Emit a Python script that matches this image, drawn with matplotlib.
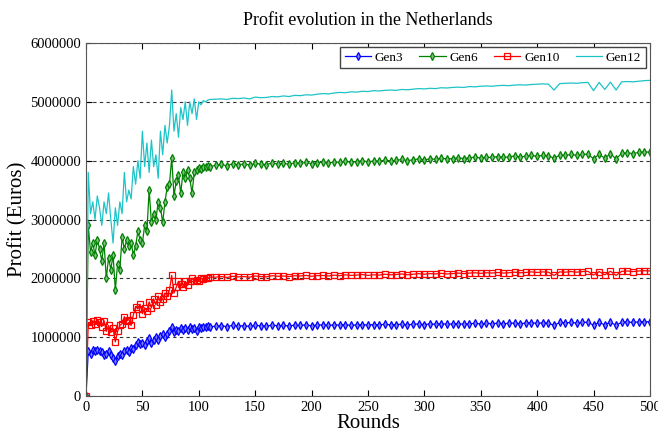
import matplotlib.pyplot as plt
import numpy as np

plt.rcParams['font.family'] = ['Liberation Serif', 'DejaVu Serif']

# rounds: every 2 rounds up to 110, then every 5 rounds
rounds = list(range(0, 112, 2)) + list(range(115, 505, 5))

# profit values in thousand euros
gen3 = [0, 760, 720, 780, 760, 790, 770, 740, 690, 720,
        760, 700, 640, 600, 680, 720, 700, 760, 780, 740,
        820, 800, 870, 920, 880, 900, 870, 940, 980, 900,
        950, 1000, 960, 1020, 1060, 1000, 1060, 1100, 1180, 1080,
        1120, 1100, 1150, 1120, 1160, 1130, 1170, 1140, 1150, 1100,
        1170, 1160, 1180, 1170, 1190, 1180,
        1185, 1195, 1180, 1200, 1190, 1195, 1185, 1200, 1195, 1190, 1205, 1195, 1200, 1190, 1205, 1200, 1210, 1195,
        1205, 1210, 1200, 1210, 1205, 1215, 1200, 1210, 1215, 1205, 1215, 1210, 1220, 1210, 1215, 1220, 1210, 1220, 1225, 1215,
        1225, 1220, 1230, 1220, 1225, 1230, 1220, 1230, 1235, 1225, 1235, 1230, 1240, 1230, 1235, 1240, 1230, 1240, 1245, 1235,
        1245, 1240, 1200, 1250, 1245, 1250, 1240, 1250, 1255, 1205, 1250, 1210, 1255, 1200, 1255, 1260, 1250, 1260, 1265, 1260]

gen6 = [0, 2900, 2450, 2600, 2400, 2650, 2500, 2300, 2600, 2000,
        2350, 2150, 2400, 1800, 2250, 2150, 2700, 2500, 2650, 2550,
        2600, 2400, 2550, 2800, 2650, 2600, 2900, 2800, 3500, 2950,
        3100, 3000, 3300, 3200, 2950, 3300, 3550, 3600, 4050, 3400,
        3650, 3750, 3450, 3800, 3700, 3850, 3700, 3450, 3800, 3850,
        3880, 3860, 3900, 3890, 3910, 3900,
        3920, 3940, 3910, 3950, 3930, 3945, 3925, 3955, 3940, 3935, 3960, 3945, 3955, 3940, 3965, 3955, 3970, 3950,
        3965, 3975, 3960, 3980, 3970, 3990, 3975, 3985, 4000, 3980, 3995, 3990, 4010, 3995, 4005, 4020, 4000, 4015, 4030, 4015,
        4030, 4025, 4040, 4030, 4035, 4050, 4035, 4050, 4060, 4045, 4060, 4055, 4070, 4055, 4065, 4080, 4065, 4075, 4090, 4075,
        4090, 4085, 4040, 4095, 4090, 4105, 4090, 4105, 4115, 4030, 4110, 4040, 4120, 4030, 4125, 4135, 4120, 4140, 4150, 4145]

gen10 = [0, 1250, 1200, 1280, 1230, 1300, 1250, 1180, 1280, 1100,
         1200, 1080, 1150, 920, 1100, 1200, 1230, 1350, 1280, 1300,
         1200, 1380, 1520, 1480, 1560, 1400, 1500, 1450, 1600, 1500,
         1650, 1550, 1700, 1600, 1650, 1750, 1700, 1800, 2050, 1750,
         1850, 1950, 1900, 1850, 1950, 1880, 1950, 2000, 1950, 1980,
         1960, 2000, 1990, 2010, 2000, 2020,
         2020, 2030, 2015, 2035, 2025, 2030, 2020, 2040, 2030, 2025, 2045, 2035, 2040, 2030, 2045, 2040, 2050, 2035,
         2045, 2050, 2040, 2055, 2045, 2060, 2050, 2055, 2065, 2050, 2060, 2055, 2070, 2060, 2065, 2075, 2060, 2070, 2080, 2070,
         2080, 2075, 2085, 2075, 2080, 2090, 2080, 2090, 2095, 2085, 2095, 2090, 2100, 2090, 2095, 2105, 2095, 2100, 2110, 2100,
         2110, 2105, 2050, 2110, 2105, 2115, 2105, 2115, 2120, 2055, 2115, 2060, 2120, 2050, 2120, 2125, 2115, 2125, 2130, 2125]

gen12 = [0, 3800, 3100, 3300, 3000, 3400, 3200, 2900, 3300, 3100,
         3450, 3000, 2600, 3200, 2900, 3300, 3100, 3800, 3300, 3500,
         3350, 3900, 3600, 4000, 3700, 4500, 3900, 4300, 3800, 4350,
         3900, 4100, 3700, 4500, 4100, 4600, 4300, 4600, 5200, 4500,
         4800, 4400, 4900, 4700, 5000, 4600, 5000, 4800, 5050, 4700,
         5000, 4950, 5020, 5000, 5030, 5040,
         5045, 5050, 5040, 5060, 5055, 5065, 5050, 5080, 5070, 5075, 5090, 5085, 5100, 5090, 5110, 5105, 5120, 5115,
         5130, 5140, 5135, 5150, 5160, 5155, 5170, 5165, 5180, 5175, 5190, 5185, 5195, 5200, 5195, 5210, 5205, 5215, 5225, 5220,
         5230, 5225, 5240, 5235, 5245, 5250, 5245, 5260, 5255, 5265, 5270, 5265, 5275, 5280, 5275, 5285, 5290, 5285, 5295, 5300,
         5305, 5300, 5200, 5310, 5315, 5320, 5315, 5325, 5330, 5190, 5330, 5210, 5335, 5200, 5340, 5345, 5340, 5350, 5360, 5365]

x = np.array(rounds)
k = 1000

fig = plt.figure(figsize=(6.58, 4.30), dpi=100)
ax = fig.add_axes([0.1307, 0.079, 0.857, 0.821])

ax.plot(x, np.array(gen3) * k, color='#0000ff', marker='d', ms=4.2, mfc='#8080ff', mew=0.9, lw=0.9, label='Gen3')
ax.plot(x, np.array(gen6) * k, color='#008000', marker='d', ms=4.2, mfc='#80c080', mew=0.9, lw=0.9, label='Gen6')
ax.plot(x, np.array(gen10) * k, color='#ff0000', marker='s', ms=3.8, mfc='none', mew=0.9, lw=0.9, label='Gen10')
ax.plot(x, np.array(gen12) * k, color='#1cc4c8', lw=0.9, label='Gen12')

ax.set_xlim(0, 500)
ax.set_ylim(0, 6000000)
ax.set_xticks(np.arange(0, 501, 50))
ax.set_yticks(np.arange(0, 6000001, 1000000))
ax.set_yticklabels(['0', '1000000', '2000000', '3000000', '4000000', '5000000', '6000000'])
ax.tick_params(direction='in', top=True, right=False, labelsize=10.5, length=4)
ax.grid(axis='y', color='#333333', linestyle=(0, (3, 3)), linewidth=0.8)

ax.set_title('Profit evolution in the Netherlands', fontsize=13, pad=13)
ax.set_xlabel('Rounds', fontsize=15, labelpad=0)
ax.set_ylabel('Profit (Euros)', fontsize=15, labelpad=2)

ax.legend(loc='upper right', ncol=4, fontsize=9.5, frameon=True, fancybox=False,
          edgecolor='#444444', framealpha=1, handlelength=2.0, columnspacing=1.2,
          handletextpad=0.3, borderaxespad=0.3, borderpad=0.35)

for s in ax.spines.values():
    s.set_color('#555555')

fig.savefig('out.png', dpi=100)
